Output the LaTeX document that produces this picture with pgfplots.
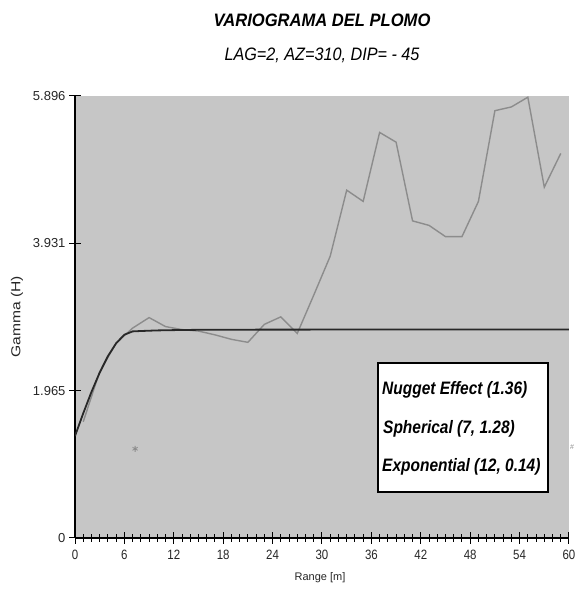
\documentclass[border=0pt]{standalone}
\usepackage{fontspec}
\setmainfont{Liberation Sans}
\newfontfamily\titlefont[FakeStretch=0.92]{Liberation Sans}
\newfontfamily\condfont[FakeStretch=0.86]{Liberation Sans}
\newfontfamily\subfont[FakeStretch=0.9]{Liberation Sans}
\newfontfamily\xtickfont[FakeStretch=0.85]{Liberation Sans}
\newfontfamily\ylabfont[FakeStretch=1.2]{Liberation Sans}
\usepackage{pgfplots}
\pgfplotsset{compat=1.18}
\definecolor{bg}{RGB}{198,198,198}
\definecolor{expcol}{RGB}{140,140,140}
\definecolor{modcol}{RGB}{40,40,40}
\begin{document}
\begin{tikzpicture}[x=1pt,y=1pt]
\path[use as bounding box] (0,0) rectangle (575,589);
\begin{axis}[
  at={(75pt,51pt)}, anchor=south west,
  scale only axis, width=494pt, height=442pt,
  xmin=0, xmax=60, ymin=0, ymax=5.896,
  axis x line*=bottom, axis y line*=left,
  axis line style={-, line width=1.2pt, black},
  axis background/.style={fill=bg},
  xtick={0,6,...,60}, minor x tick num=5,
  ytick={0,1.965,3.931,5.896}, yticklabels={0,1.965,3.931,5.896},
  minor y tick num=4,
  tick align=center, major tick length=12pt, minor tick length=8pt,
  tick style={black, line width=1pt},
  /pgf/number format/assume math mode=true,
  xticklabel style={font=\xtickfont\fontsize{13.5}{15}\selectfont, text=black!85, yshift=-3pt},
  yticklabel style={font=\fontsize{13}{15}\selectfont, text=black!85},
  clip=true,
]
\addplot[expcol, line width=1.4pt] coordinates {
(1,1.55) (3,2.22) (5,2.60) (7,2.80) (9,2.94) (11,2.82) (13,2.78) (15,2.76)
(17,2.71) (19,2.65) (21,2.61) (23,2.85) (25,2.95) (27,2.73) (29,3.24)
(31,3.76) (33,4.64) (35,4.49) (37,5.41) (39,5.28) (41,4.23) (43,4.17)
(45,4.02) (47,4.02) (49,4.49) (51,5.70) (53,5.75) (55,5.88) (57,4.68) (59,5.13)
};
\addplot[modcol, line width=1.8pt] coordinates {
(0,1.36) (1,1.663) (2,1.949) (3,2.206) (4,2.426) (5,2.598) (6,2.712) (7,2.756)
(8,2.761) (10,2.769) (12,2.773) (15,2.777) (20,2.779) (30,2.780) (60,2.780)
};
\addplot[only marks, mark=asterisk, mark size=3pt, expcol, line width=0.8pt] coordinates {(7.3,1.19)};
\end{axis}
\node[font=\titlefont\bfseries\itshape\fontsize{18}{20}\selectfont] at (322,569) {VARIOGRAMA DEL PLOMO};
\node[font=\subfont\itshape\fontsize{18}{20}\selectfont] at (322,534) {LAG=2, AZ=310, DIP= - 45};
\node[font=\fontsize{11}{13}\selectfont, text=black!85] at (320,11) {Range [m]};
\node[font=\ylabfont\fontsize{13}{15}\selectfont, text=black!85, rotate=90] at (17,272) {Gamma (H)};
\draw[line width=1.5pt, fill=white] (378,97) rectangle (548,226);
\node[anchor=west, inner sep=0, font=\condfont\bfseries\itshape\fontsize{18}{20}\selectfont] at (382,199) {Nugget Effect (1.36)};
\node[anchor=west, inner sep=0, font=\condfont\bfseries\itshape\fontsize{18}{20}\selectfont] at (383,160) {Spherical (7, 1.28)};
\node[anchor=west, inner sep=0, font=\condfont\bfseries\itshape\fontsize{18}{20}\selectfont] at (382,122) {Exponential (12, 0.14)};
\node[font=\fontsize{7}{8}\selectfont, text=expcol] at (572,142) {\#};
\end{tikzpicture}
\end{document}
